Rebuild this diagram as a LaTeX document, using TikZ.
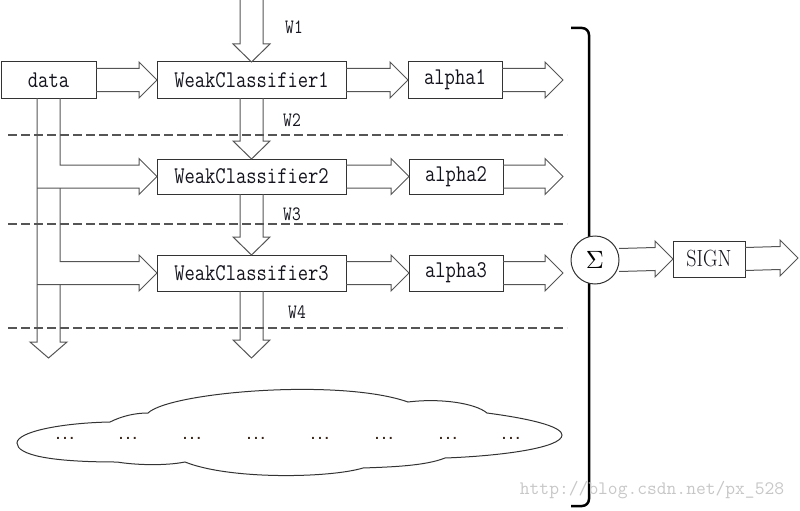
\documentclass[tikz,border=0pt]{standalone}
\usepackage{graphicx}
\usepackage{fontspec}
\newfontfamily\dotfont{DejaVu Sans Mono}
\usetikzlibrary{calc}
\definecolor{boxline}{HTML}{333333}
\definecolor{arrline}{HTML}{555555}
\definecolor{txt}{HTML}{14141e}
\definecolor{dotc}{HTML}{3a2418}
\newcommand\monof{\fontsize{20}{20}\selectfont\ttfamily}
\newcommand\wfont{\fontsize{17}{17}\selectfont\ttfamily}
\newcommand\stt[1]{\scalebox{1}[1.2]{#1}}
\newcommand\hblk[2]{\draw[blk] ($(#1)+(0,-11.5)$) -- ($(#2)+(-18,-11.5)$) -- ($(#2)+(-18,-18)$) -- (#2) -- ($(#2)+(-18,18)$) -- ($(#2)+(-18,11.5)$) -- ($(#1)+(0,11.5)$);}
\newcommand\vblk[2]{\draw[blk] ($(#1)+(-11.5,0)$) -- ($(#2)+(-11.5,-18)$) -- ($(#2)+(-18.5,-18)$) -- (#2) -- ($(#2)+(18.5,-18)$) -- ($(#2)+(11.5,-18)$) -- ($(#1)+(11.5,0)$);}
\tikzset{
  box/.style={draw=boxline, line width=1pt, minimum height=36, inner sep=0, outer sep=0, font=\monof, text=txt, fill=white},
  blk/.style={draw=arrline, line width=1pt, line join=miter},
  sepline/.style={draw=arrline, line width=1.2pt, dash pattern=on 9pt off 4pt},
  wlab/.style={font=\wfont, text=txt, inner sep=0},
  dots/.style={font=\fontsize{11.6}{12}\selectfont\dotfont\bfseries, text=dotc, inner sep=0},
}
\begin{document}
\begin{tikzpicture}[x=1pt,y=-1pt]
\useasboundingbox (0,0) rectangle (800,511);
% boxes
\node[box, minimum width=95] (data) at (48.5,80) {\stt{data}};
\node[box, minimum width=189] (wc1) at (251.5,80) {\stt{WeakClassifier1}};
\node[box, minimum width=94] (a1) at (455,80) {\stt{alpha1}};
\node[box, minimum width=189, minimum height=35] (wc2) at (251.5,176.5) {\stt{WeakClassifier2}};
\node[box, minimum width=94, minimum height=35] (a2) at (456,176.5) {\stt{alpha2}};
\node[box, minimum width=189] (wc3) at (251.5,273) {\stt{WeakClassifier3}};
\node[box, minimum width=94] (a3) at (456,273) {\stt{alpha3}};
% free ends
\coordinate (o1) at (563,80);
\coordinate (o2) at (563,176.5);
\coordinate (o3) at (563,273);
\coordinate (w1s) at (251.5,0);
\coordinate (w4e) at (251.5,358);
\coordinate (dtip) at (48.5,358);
\coordinate (fl) at ($(data.south)+(-11.5,0)$);
\coordinate (fr) at ($(data.south)+(11.5,0)$);
\coordinate (w2b) at ($(wc2.west)+(0,11.5)$);
\coordinate (w3b) at ($(wc3.west)+(0,11.5)$);
% dashed separators
\draw[sepline] (8,135) -- (567,135);
\draw[sepline] (8,224) -- (567,224);
\draw[sepline] (8,328) -- (567,328);
% horizontal block arrows
\hblk{data.east}{wc1.west}
\hblk{wc1.east}{a1.west}
\hblk{a1.east}{o1}
\hblk{wc2.east}{a2.west}
\hblk{a2.east}{o2}
\hblk{wc3.east}{a3.west}
\hblk{a3.east}{o3}
% vertical weight arrows
\vblk{w1s}{wc1.north}
\vblk{wc1.south}{wc2.north}
\vblk{wc2.south}{wc3.north}
\vblk{wc3.south}{w4e}
% data fork
\draw[blk] (fl) -- ($(dtip)+(-11.5,-16)$) -- ++(-7,0) -- (dtip) -- ++(18.5,-16) -- ++(-7,0) -- (fr |- w3b);
\draw[blk] (fr) |- ($(wc2.west)+(-18,-11.5)$) -- ++(0,-6.5) -- (wc2.west) -- ++(-18,18) -- ++(0,-6.5) -- (fl |- w2b);
\draw[blk] (fr |- w2b) |- ($(wc3.west)+(-18,-11.5)$) -- ++(0,-6.5) -- (wc3.west) -- ++(-18,18) -- ++(0,-6.5) -- (fl |- w3b);
% weight labels
\node[wlab] (lw1) at (294,27) {\stt{W1}};
\node[wlab] (lw2) at (292,120) {\stt{W2}};
\node[wlab] (lw3) at (292,214) {\stt{W3}};
\node[wlab] (lw4) at (297,312) {\stt{W4}};
% cloud
\draw[draw=boxline, line width=1pt, fill=white]
  (17,443) .. controls (17,432) and (60,423) .. (110,422)
  .. controls (122,416) and (135,413) .. (148,413)
  .. controls (170,392) and (340,378) .. (408,402)
  .. controls (440,398) and (475,403) .. (487,413)
  .. controls (540,420) and (562,428) .. (562,435)
  .. controls (562,448) and (500,456) .. (445,458)
  .. controls (425,466) and (390,467) .. (363,468)
  .. controls (330,478) and (230,480) .. (185,462)
  .. controls (165,466) and (135,465) .. (117,462)
  .. controls (50,462) and (17,455) .. (17,443) -- cycle;
\foreach \i/\xx in {1/65,2/128,3/192,4/256,5/320,6/384,7/448,8/511}
  \node[dots, anchor=base] (d\i) at (\xx,439) {...};
% bracket
\draw[line width=2.5pt, rounded corners=7] (571,28) -- (589,28) -- (589,506) -- (571,506);
% sum and sign
\node[circle, draw=boxline, line width=1pt, fill=white, minimum size=48, inner sep=0, outer sep=0] (sum) at (595,260) {\scalebox{2.5}{$\Sigma$}};
\node[box, minimum width=72, font=\fontsize{20}{20}\selectfont\rmfamily] (sign) at (709,259) {\scalebox{1}[1.17]{SIGN}};
\coordinate (so) at (798,258);
\hblk{sum.east}{sign.west}
\hblk{sign.east}{so}
% watermark
\node[font=\fontsize{19}{19}\selectfont\ttfamily, text=black!22, inner sep=0] (wm) at (652,490) {http://blog.csdn.net/px\_528};
\end{tikzpicture}
\end{document}
